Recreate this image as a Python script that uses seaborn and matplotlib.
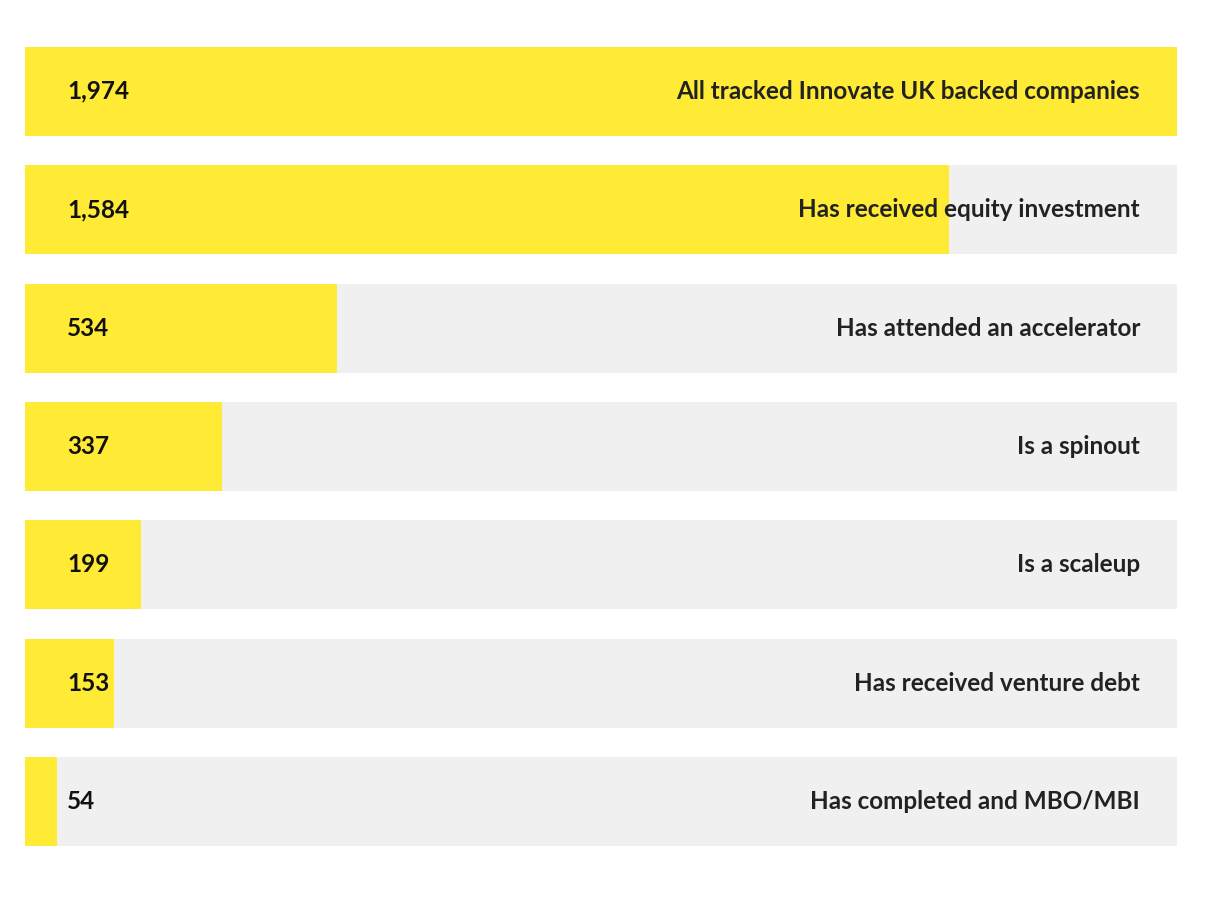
import pandas as pd
import matplotlib.pyplot as plt
import seaborn as sns

categories = ['All tracked Innovate UK backed companies',
              'Has received equity investment',
              'Has attended an accelerator',
              'Is a spinout',
              'Is a scaleup',
              'Has received venture debt',
              'Has completed and MBO/MBI']
counts = [1974, 1584, 534, 337, 199, 153, 54]
total = 1974

df = pd.DataFrame({'category': categories, 'count': counts})
df['total'] = total

sns.set_style('white')
plt.rcParams['font.family'] = ['Lato', 'DejaVu Sans']

fig = plt.figure(figsize=(12.13, 9.01), dpi=100)
ax = fig.add_axes([25 / 1213, 55 / 901, 1152 / 1213, 799 / 901])

sns.barplot(data=df, y='category', x='total', color='#f0f0f0',
            width=0.75, saturation=1, linewidth=0, ax=ax, orient='h')
sns.barplot(data=df, y='category', x='count', color='#ffea35',
            width=0.75, saturation=1, linewidth=0, ax=ax, orient='h')

ax.set_xlim(0, total)
ax.set_ylim(6.375, -0.375)
ax.axis('off')

for i, row in df.iterrows():
    ax.text(42 / 1152 * total, i, f"{row['count']:,}", va='center', ha='left',
            fontsize=17.5, fontweight='bold', color='#111111')
    ax.text(1115 / 1152 * total, i, row['category'], va='center', ha='right',
            fontsize=17.5, fontweight='bold', color='#222222')

plt.savefig('out.png', dpi=100)
